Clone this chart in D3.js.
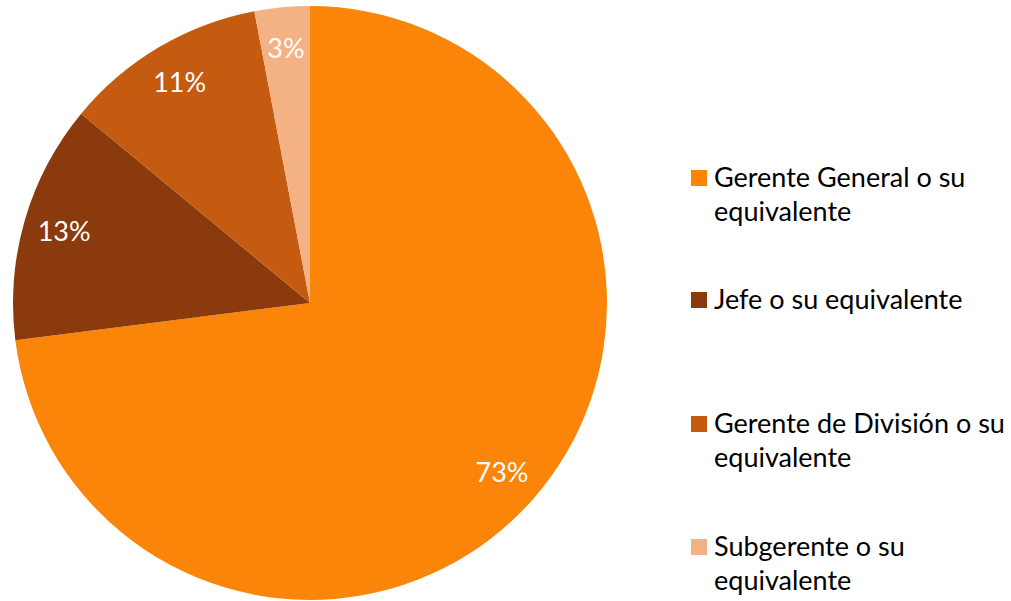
<!DOCTYPE html>
<html>
<head>
<meta charset="utf-8">
<script src="https://cdn.jsdelivr.net/npm/d3@7"></script>
<style>
  html, body { margin: 0; padding: 0; background: #fff; }
  svg { display: block; font-family: Lato, "Open Sans", sans-serif; }
</style>
</head>
<body>
<svg id="chart" width="1011" height="601"></svg>
<script>
const categories = ["Gerente General o su equivalente", "Jefe o su equivalente", "Gerente de División o su equivalente", "Subgerente o su equivalente"];
const legendLines = [["Gerente General o su", "equivalente"], ["Jefe o su equivalente"], ["Gerente de División o su", "equivalente"], ["Subgerente o su", "equivalente"]];
const values = [73, 13, 11, 3];
const labels = ["73%", "13%", "11%", "3%"];
const colors = ["#FB8508", "#8A3A0C", "#C55A11", "#F4B183"];

const svg = d3.select("#chart");
const cx = 310, cy = 303, r = 297;
const data = categories.map((c, i) => ({ cat: c, value: values[i], label: labels[i], color: colors[i], lines: legendLines[i] }));

const pie = d3.pie().value(d => d.value).sort(null);
const arc = d3.arc().innerRadius(0).outerRadius(r);
const labelArc = d3.arc().innerRadius(256).outerRadius(256);

const g = svg.append("g").attr("transform", `translate(${cx},${cy})`);
const arcs = pie(data);
g.selectAll("path").data(arcs).enter().append("path")
  .attr("d", arc).attr("fill", d => d.data.color);

g.selectAll("text.lbl").data(arcs).enter().append("text")
  .attr("class", "lbl")
  .attr("transform", d => `translate(${labelArc.centroid(d)})`)
  .attr("text-anchor", "middle").attr("dy", "0.36em")
  .attr("fill", "#fff").attr("font-size", 27)
  .text(d => d.data.label);

const legendY = [178, 300, 424, 547];
const lineH = 34;
const leg = svg.append("g");
data.forEach((d, i) => {
  const y0 = legendY[i];
  leg.append("rect").attr("x", 691).attr("y", y0 - 8).attr("width", 16).attr("height", 16).attr("fill", d.color);
  d.lines.forEach((t, j) => {
    leg.append("text").attr("x", 714).attr("y", y0 + j * lineH).attr("dy", "0.35em")
      .attr("font-size", 27).attr("fill", "#000").text(t);
  });
});
</script>
</body>
</html>
